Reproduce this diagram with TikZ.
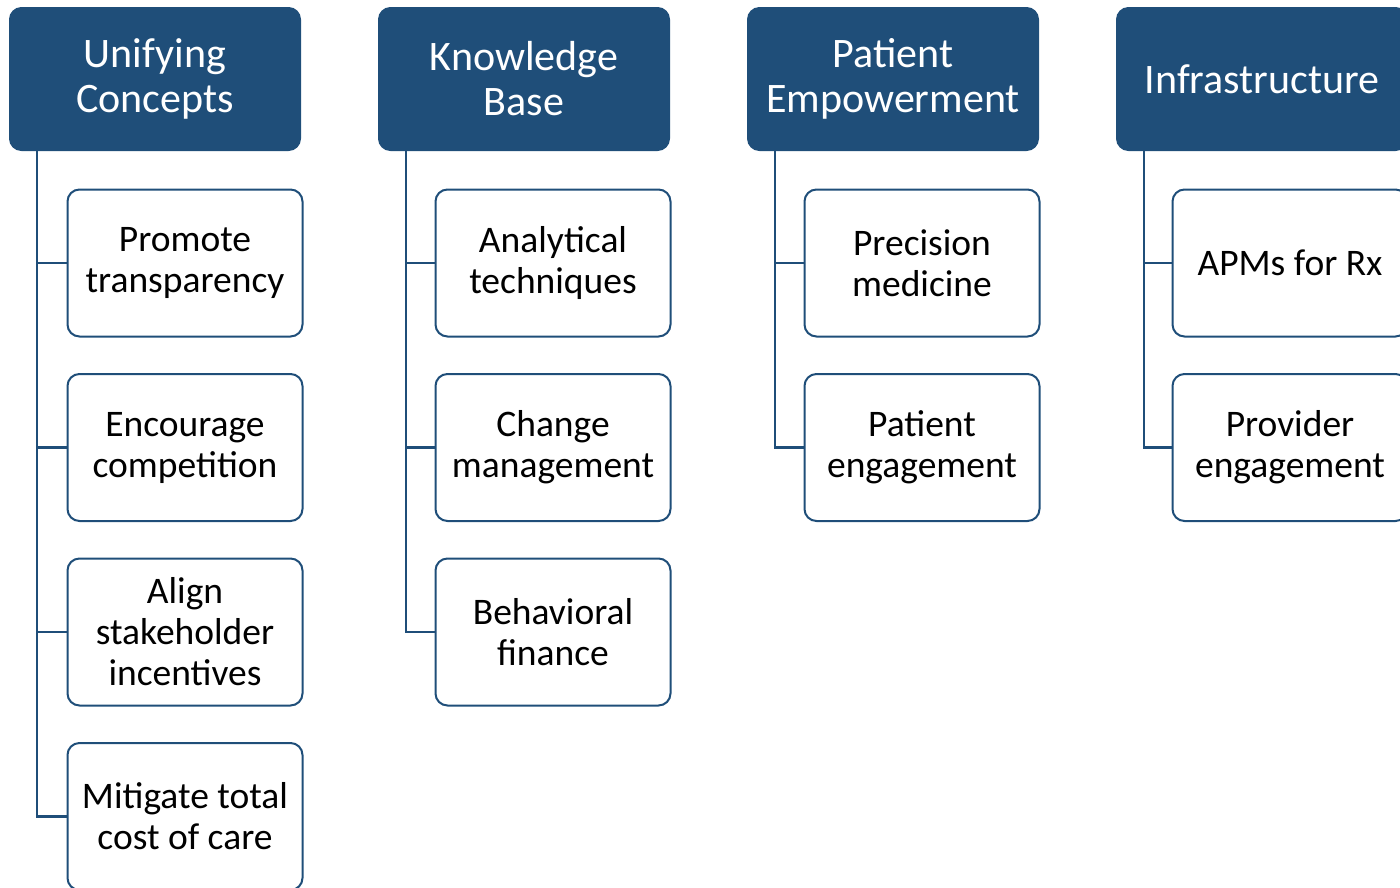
\documentclass[tikz,border=0pt]{standalone}
\usepackage{fontspec}
\setmainfont{Carlito}
\usetikzlibrary{calc}
\definecolor{navy}{HTML}{1F4E79}
\tikzset{
  head/.style={draw=navy, fill=navy, line width=1pt, rounded corners=12pt, minimum width=291pt, minimum height=143pt, text=white, align=center, font=\fontsize{42}{45}\selectfont, inner sep=0pt},
  item/.style={draw=navy, fill=white, line width=2pt, rounded corners=12pt, minimum width=235pt, minimum height=147pt, align=center, font=\fontsize{37.5}{41}\selectfont, inner sep=0pt},
  link/.style={draw=navy, line width=2.5pt}
}
\begin{document}
\begin{tikzpicture}[x=1pt,y=-1pt]
\useasboundingbox (0,0) rectangle (1400,887);
\clip (0,0) rectangle (1400,887);
% headers
\node[head] (h1) at (155,79) {Unifying\\Concepts};
\node[head] (h2) at (524,79) {Knowledge\\Base};
\node[head] (h3) at (893,79) {Patient\\Empowerment};
\node[head] (h4) at (1262,79) {Infrastructure};
% column 1
\node[item] (a1) at (185,263) {Promote\\transparency};
\node[item] (a2) at (185,447.5) {Encourage\\competition};
\node[item] (a3) at (185,632) {Align\\stakeholder\\incentives};
\node[item] (a4) at (185,816.5) {Mitigate total\\cost of care};
% column 2
\node[item] (b1) at (553,263) {Analytical\\techniques};
\node[item] (b2) at (553,447.5) {Change\\management};
\node[item] (b3) at (553,632) {Behavioral\\finance};
% column 3
\node[item] (c1) at (922,263) {Precision\\medicine};
\node[item] (c2) at (922,447.5) {Patient\\engagement};
% column 4
\node[item] (d1) at (1290,263) {APMs for Rx};
\node[item] (d2) at (1290,447.5) {Provider\\engagement};
% connectors
\coordinate (t1) at ($(h1.south west)+(28,0)$);
\coordinate (t2) at ($(h2.south west)+(28,0)$);
\coordinate (t3) at ($(h3.south west)+(28,0)$);
\coordinate (t4) at ($(h4.south west)+(28,0)$);
\foreach \c in {a1,a2,a3,a4} \draw[link] (t1) |- (\c.west);
\foreach \c in {b1,b2,b3} \draw[link] (t2) |- (\c.west);
\foreach \c in {c1,c2} \draw[link] (t3) |- (\c.west);
\foreach \c in {d1,d2} \draw[link] (t4) |- (\c.west);
\end{tikzpicture}
\end{document}
